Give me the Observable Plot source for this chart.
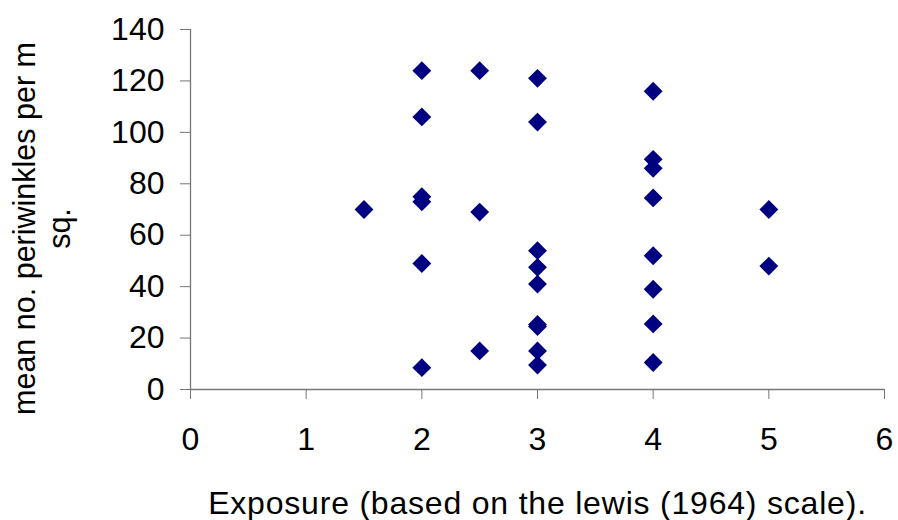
<!DOCTYPE html>
<html>
<head>
<meta charset="utf-8">
<script src="https://cdn.jsdelivr.net/npm/d3@7"></script>
<script src="https://cdn.jsdelivr.net/npm/@observablehq/plot@0.6"></script>
<style>
  html, body { margin: 0; padding: 0; background: #fff; }
  #chart svg { display: block; }
  .xtitle text { letter-spacing: 0.8px; }
</style>
</head>
<body>
<div id="chart"></div>
<script>
const xTitle = "Exposure (based on the lewis (1964) scale).";
const yTitle = "mean no. periwinkles per m\nsq.";
const xTicks = [0, 1, 2, 3, 4, 5, 6];
const yTicks = [0, 20, 40, 60, 80, 100, 120, 140];
const exposure = [
  1.5,
  2, 2, 2, 2, 2, 2,
  2.5, 2.5, 2.5,
  3, 3, 3, 3, 3, 3, 3, 3, 3,
  4, 4, 4, 4, 4, 4, 4, 4,
  5, 5
];
const periwinkles = [
  70,
  124, 106, 75, 73, 49, 8.5,
  124, 69, 15,
  121, 104, 54, 47.5, 41, 25.3, 24.5, 15, 9.5,
  116, 89.5, 86, 74.5, 52, 39, 25.5, 10.5,
  70, 48
];
const points = exposure.map((x, i) => ({x, y: periwinkles[i]}));

const font = "'Liberation Sans', Arial, sans-serif";
const axisColor = "#777";

const chart = Plot.plot({
  width: 898,
  height: 520,
  marginLeft: 190,
  marginRight: 14,
  marginTop: 29,
  marginBottom: 131,
  style: {fontFamily: font, color: "#000", background: "#fff", overflow: "visible"},
  x: {domain: [0, 6], label: null},
  y: {domain: [0, 140], label: null},
  marks: [
    Plot.ruleX([0], {stroke: axisColor, strokeWidth: 1.3}),
    Plot.ruleY([0], {stroke: axisColor, strokeWidth: 1.3}),
    Plot.axisX({ticks: xTicks, tickFormat: d3.format("d"), tickSize: 10, tickPadding: 28, fontSize: 32, stroke: axisColor, label: null}),
    Plot.axisY({ticks: yTicks, tickFormat: d3.format("d"), tickSize: 10, tickPadding: 16, fontSize: 32, stroke: axisColor, label: null}),
    Plot.dot(points, {x: "x", y: "y", symbol: "diamond2", r: 8.5, fill: "#000080", stroke: "none"}),
    Plot.text([xTitle], {className: "xtitle", frameAnchor: "bottom", textAnchor: "middle", lineAnchor: "top", dy: 102, dx: 0, fontSize: 32, fill: "#000"}),
    Plot.text([yTitle], {frameAnchor: "left", textAnchor: "middle", rotate: -90, lineAnchor: "middle", lineHeight: 1.15, dx: 41 - 190, dy: 19, fontSize: 30.5, fill: "#000"})
  ]
});
document.getElementById("chart").appendChild(chart);
</script>
</body>
</html>
